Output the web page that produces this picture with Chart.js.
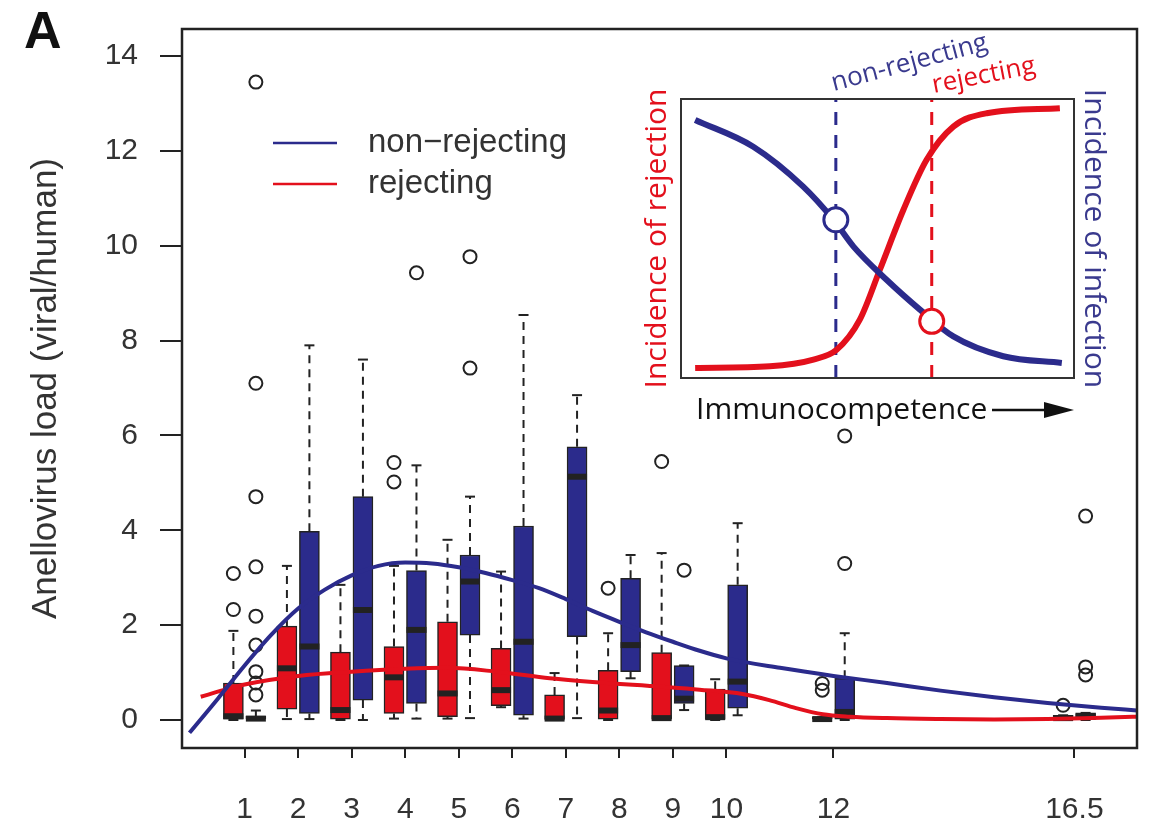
<!DOCTYPE html>
<html>
<head>
<meta charset="utf-8">
<script src="https://cdn.jsdelivr.net/npm/chart.js@4.4.1/dist/chart.umd.min.js"></script>
<style>
    body { margin: 0; background: #ffffff; }
    #wrap { position: relative; width: 1153px; height: 827px; }
    #main { position: absolute; left: 0; top: 0; }
    #inset { position: absolute; left: 620px; top: 20px; }
</style>
</head>
<body>
<div id="wrap">
    <canvas id="main" width="1153" height="827"></canvas>
    <canvas id="inset" width="530" height="420"></canvas>
</div>
<script>
// months after transplant (x positions of the box pairs)
const groups = [1, 2, 3, 4, 5, 6, 7, 8, 9, 10, 12, 16.5];
const xTicks = [1, 2, 3, 4, 5, 6, 7, 8, 9, 10, 12, 16.5];
const yTicks = [0, 2, 4, 6, 8, 10, 12, 14];

// rejecting (red) boxes
const rejLow      = [0,    0.02, 0,    0.03, 0.03, 0.27, 0,    0,    0,    0,    0,    0];
const rejQ1       = [0.02, 0.23, 0.02, 0.14, 0.07, 0.3,  0.01, 0.02, 0.02, 0.02, 0,    0];
const rejMedian   = [0.08, 1.09, 0.21, 0.9,  0.56, 0.63, 0.03, 0.2,  0.04, 0.06, 0.02, 0.04];
const rejQ3       = [0.78, 1.98, 1.43, 1.55, 2.07, 1.51, 0.53, 1.05, 1.42, 0.65, 0.06, 0.1];
const rejHigh     = [1.88, 3.25, 2.85, 3.25, 3.8,  3.13, 0.99, 1.83, 3.52, 0.86, 0.06, 0.1];
const rejOutliers = [[3.09, 2.33], [], [], [5.43, 5.02], [], [], [], [2.78], [5.45], [], [0.77, 0.63], [0.31]];

// non-rejecting (blue) boxes
const nonLow      = [0,    0.02, 0,    0.03, 0.04, 0.03, 0.04, 0.88, 0.21, 0.1,  0,    0];
const nonQ1       = [0,    0.14, 0.42, 0.35, 1.79, 0.1,  1.76, 1.02, 0.35, 0.25, 0.02, 0.01];
const nonMedian   = [0.03, 1.55, 2.32, 1.9,  2.92, 1.65, 5.13, 1.58, 0.45, 0.81, 0.17, 0.07];
const nonQ3       = [0.08, 3.98, 4.71, 3.15, 3.48, 4.09, 5.76, 2.99, 1.15, 2.85, 0.88, 0.15];
const nonHigh     = [0.2,  7.9,  7.6,  5.37, 4.71, 8.54, 6.85, 3.48, 1.15, 4.15, 1.83, 0.15];
const nonOutliers = [[13.45, 7.1, 4.71, 3.23, 2.19, 1.58, 1.02, 0.78, 0.53], [], [], [9.43], [9.77, 7.42], [], [], [], [3.16], [], [5.99, 3.3], [4.3, 1.12, 0.95]];

// fitted curves
const nonCurveX = [-0.03, 0.5, 1, 1.5, 2, 2.5, 3, 3.5, 4, 4.5, 5, 5.5, 6, 6.5, 7, 7.5, 8, 8.5, 9, 9.5, 10, 11, 12, 13, 14, 15, 16, 17, 17.67];
const nonCurveY = [-0.27, 0.45, 1.15, 1.8, 2.35, 2.75, 3.05, 3.25, 3.32, 3.3, 3.22, 3.1, 2.95, 2.78, 2.55, 2.3, 2.07, 1.85, 1.65, 1.46, 1.3, 1.1, 0.93, 0.78, 0.62, 0.48, 0.36, 0.26, 0.2];
const rejCurveX = [0.18, 0.6, 1, 2, 3, 4, 4.8, 5.7, 6.7, 7.5, 8.8, 9.5, 10.3, 10.8, 11.3, 11.8, 12.3, 13, 14, 15, 16, 17, 17.67];
const rejCurveY = [0.49, 0.63, 0.75, 0.93, 1.02, 1.08, 1.1, 1.02, 0.88, 0.8, 0.7, 0.64, 0.55, 0.42, 0.25, 0.12, 0.07, 0.04, 0.02, 0.01, 0.02, 0.05, 0.07];

// inset schematic
const insetInfX = [0.036, 0.184, 0.311, 0.388, 0.439, 0.523, 0.608, 0.693, 0.82, 0.969];
const insetInfY = [0.925, 0.829, 0.686, 0.567, 0.471, 0.352, 0.245, 0.149, 0.078, 0.054];
const insetRejX = [0.036, 0.226, 0.337, 0.396, 0.455, 0.506, 0.566, 0.625, 0.693, 0.778, 0.964];
const insetRejY = [0.036, 0.042, 0.066, 0.101, 0.209, 0.388, 0.603, 0.782, 0.901, 0.949, 0.967];
const thresholdX = [0.394, 0.638];
const thresholdY = [0.567, 0.203];

const RED = "#e3101c";
const BLUE = "#2b2b8c";
const INK = "#222222";
const TEXT = "#333333";
const SANS = "'Liberation Sans', Arial, Helvetica, sans-serif";
const INSET_FONT = "'Open Sans', 'Noto Sans', sans-serif";
const boxShift = 0.21;

function boxData(q1, q3, shift) {
    return groups.map((g, i) => ({ x: g + shift, y: [q1[i], q3[i]] }));
}

function pointData(values, shift) {
    return groups.map((g, i) => ({ x: g + shift, y: values[i] }));
}

function capData(low, high, shift) {
    const pts = [];
    groups.forEach((g, i) => {
        pts.push({ x: g + shift, y: low[i] }, { x: g + shift, y: high[i] });
    });
    return pts;
}

function whiskerData(low, q1, q3, high, shift) {
    const pts = [];
    groups.forEach((g, i) => {
        const x = g + shift;
        pts.push({ x, y: q3[i] }, { x, y: high[i] }, { x, y: null });
        pts.push({ x, y: q1[i] }, { x, y: low[i] }, { x, y: null });
    });
    return pts;
}

function outlierData(lists, shift) {
    const pts = [];
    lists.forEach((list, i) => {
        list.forEach((v) => pts.push({ x: groups[i] + shift, y: v }));
    });
    return pts;
}

function curveData(xs, ys) {
    return xs.map((x, i) => ({ x, y: ys[i] }));
}

function boxSet(q1, q3, shift, color) {
    return {
        type: "bar",
        data: boxData(q1, q3, shift),
        backgroundColor: color,
        borderColor: INK,
        borderWidth: 1.5,
        borderSkipped: false,
        barThickness: 20,
        grouped: false,
        order: 8
    };
}

function whiskerSet(low, q1, q3, high, shift) {
    return {
        type: "line",
        data: whiskerData(low, q1, q3, high, shift),
        borderColor: INK,
        borderWidth: 2,
        borderDash: [8, 6],
        pointRadius: 0,
        spanGaps: false,
        order: 9
    };
}

function markSet(data, style, radius, width) {
    return {
        type: "scatter",
        data,
        pointStyle: style,
        pointRadius: radius,
        pointBorderWidth: width,
        pointBorderColor: INK,
        pointBackgroundColor: "rgba(0,0,0,0)",
        order: 6
    };
}

function curveSet(label, xs, ys, color) {
    return {
        type: "line",
        label,
        data: curveData(xs, ys),
        borderColor: color,
        borderWidth: 4,
        pointRadius: 0,
        cubicInterpolationMode: "monotone",
        order: 3
    };
}

const framePlugin = {
    id: "frame",
    afterDraw(chart) {
        const { ctx, chartArea: a } = chart;
        ctx.save();
        ctx.strokeStyle = INK;
        ctx.lineWidth = 2.5;
        ctx.strokeRect(a.left, a.top, a.right - a.left, a.bottom - a.top);

        // legend
        const items = [["non\u2212rejecting", BLUE], ["rejecting", RED]];
        items.forEach(([label, color], i) => {
            const y = a.top + 114 + i * 41;
            ctx.strokeStyle = color;
            ctx.lineWidth = 2.5;
            ctx.beginPath();
            ctx.moveTo(a.left + 91, y);
            ctx.lineTo(a.left + 155, y);
            ctx.stroke();
            ctx.fillStyle = TEXT;
            ctx.font = "33px " + SANS;
            ctx.textBaseline = "middle";
            ctx.textAlign = "left";
            ctx.fillText(label, a.left + 186, y);
        });

        // panel letter
        ctx.fillStyle = "#111";
        ctx.font = "bold 52px " + SANS;
        ctx.textBaseline = "alphabetic";
        ctx.fillText("A", 24, 48);
        ctx.restore();
    }
};

new Chart(document.getElementById("main"), {
    type: "line",
    data: {
        datasets: [
            curveSet("non-rejecting", nonCurveX, nonCurveY, BLUE),
            curveSet("rejecting", rejCurveX, rejCurveY, RED),
            boxSet(rejQ1, rejQ3, -boxShift, RED),
            boxSet(nonQ1, nonQ3, boxShift, BLUE),
            whiskerSet(rejLow, rejQ1, rejQ3, rejHigh, -boxShift),
            whiskerSet(nonLow, nonQ1, nonQ3, nonHigh, boxShift),
            markSet(pointData(rejMedian, -boxShift), "line", 10, 6),
            markSet(pointData(nonMedian, boxShift), "line", 10, 6),
            markSet(capData(rejLow, rejHigh, -boxShift), "line", 5, 2),
            markSet(capData(nonLow, nonHigh, boxShift), "line", 5, 2),
            markSet(outlierData(rejOutliers, -boxShift), "circle", 6.5, 2),
            markSet(outlierData(nonOutliers, boxShift), "circle", 6.5, 2)
        ]
    },
    options: {
        responsive: false,
        animation: false,
        events: [],
        layout: { padding: { top: 29, right: 4, left: 0, bottom: 0 } },
        plugins: {
            legend: { display: false },
            tooltip: { enabled: false }
        },
        scales: {
            x: {
                type: "linear",
                min: -0.17,
                max: 17.67,
                offset: false,
                afterBuildTicks: (scale) => {
                    scale.ticks = xTicks.map((v) => ({ value: v }));
                },
                afterFit: (scale) => {
                    scale.height = 79;
                    scale.paddingLeft = 0;
                    scale.paddingRight = 0;
                },
                border: { display: false },
                grid: {
                    drawOnChartArea: false,
                    drawTicks: true,
                    tickLength: 10,
                    color: INK,
                    lineWidth: 2,
                    offset: false
                },
                ticks: {
                    autoSkip: false,
                    maxRotation: 0,
                    padding: 34,
                    color: TEXT,
                    font: { family: SANS, size: 30 },
                    callback: (value) => String(value)
                }
            },
            y: {
                type: "linear",
                min: -0.59,
                max: 14.57,
                afterBuildTicks: (scale) => {
                    scale.ticks = yTicks.map((v) => ({ value: v }));
                },
                afterFit: (scale) => {
                    scale.width = 182;
                    scale.paddingTop = 0;
                    scale.paddingBottom = 0;
                },
                border: { display: false },
                grid: {
                    drawOnChartArea: false,
                    drawTicks: true,
                    tickLength: 22,
                    color: INK,
                    lineWidth: 2
                },
                ticks: {
                    padding: 22,
                    color: TEXT,
                    font: { family: SANS, size: 30 },
                    callback: (value) => String(value)
                },
                title: {
                    display: true,
                    text: "Anellovirus load (viral/human)",
                    color: TEXT,
                    font: { family: SANS, size: 35 },
                    padding: { top: 25, bottom: 0 }
                }
            }
        }
    },
    plugins: [framePlugin]
});

const insetPlugin = {
    id: "insetDecor",
    beforeDraw(chart) {
        const { ctx, chartArea: a } = chart;
        ctx.save();
        ctx.fillStyle = "#ffffff";
        ctx.fillRect(a.left, a.top, a.right - a.left, a.bottom - a.top);
        ctx.restore();
    },
    afterDraw(chart) {
        const { ctx, chartArea: a, scales } = chart;
        ctx.save();
        ctx.strokeStyle = "#333";
        ctx.lineWidth = 2;
        ctx.strokeRect(a.left, a.top, a.right - a.left, a.bottom - a.top);

        const midY = (a.top + a.bottom) / 2;
        ctx.textAlign = "center";
        ctx.textBaseline = "middle";
        ctx.font = "30px " + INSET_FONT;

        ctx.save();
        ctx.translate(a.left - 24, midY);
        ctx.rotate(-Math.PI / 2);
        ctx.fillStyle = RED;
        ctx.fillText("Incidence of rejection", 0, 0);
        ctx.restore();

        ctx.save();
        ctx.translate(a.right + 20, midY);
        ctx.rotate(Math.PI / 2);
        ctx.fillStyle = "#3a3a8e";
        ctx.fillText("Incidence of infection", 0, 0);
        ctx.restore();

        // x label with arrow
        const labelY = a.bottom + 32;
        ctx.textAlign = "left";
        ctx.fillStyle = "#111";
        ctx.fillText("Immunocompetence", a.left + 15, labelY);
        const arrowStart = a.left + 311;
        ctx.strokeStyle = "#111";
        ctx.lineWidth = 2.5;
        ctx.beginPath();
        ctx.moveTo(arrowStart, labelY);
        ctx.lineTo(a.right - 25, labelY);
        ctx.stroke();
        ctx.fillStyle = "#111";
        ctx.beginPath();
        ctx.moveTo(a.right - 30, labelY - 8);
        ctx.lineTo(a.right, labelY);
        ctx.lineTo(a.right - 30, labelY + 8);
        ctx.closePath();
        ctx.fill();

        // threshold labels
        ctx.font = "26px " + INSET_FONT;
        ctx.textBaseline = "alphabetic";
        ctx.save();
        ctx.translate(scales.x.getPixelForValue(thresholdX[0]) - 2, a.top - 8);
        ctx.rotate(-15 * Math.PI / 180);
        ctx.fillStyle = "#3a3a8e";
        ctx.fillText("non-rejecting", 0, 0);
        ctx.restore();

        ctx.save();
        ctx.translate(scales.x.getPixelForValue(thresholdX[1]) + 2, a.top - 6);
        ctx.rotate(-11 * Math.PI / 180);
        ctx.fillStyle = RED;
        ctx.fillText("rejecting", 0, 0);
        ctx.restore();

        ctx.restore();
    }
};

function thresholdSet(i, color) {
    return {
        type: "line",
        data: [{ x: thresholdX[i], y: 0 }, { x: thresholdX[i], y: 1 }],
        borderColor: color,
        borderWidth: 3,
        borderDash: [13, 10],
        pointRadius: 0,
        order: 6
    };
}

function markerSet(i, color) {
    return {
        type: "scatter",
        data: [{ x: thresholdX[i], y: thresholdY[i] }],
        pointRadius: 12,
        pointBorderWidth: 3,
        pointBorderColor: color,
        pointBackgroundColor: "#ffffff",
        order: 1
    };
}

new Chart(document.getElementById("inset"), {
    type: "line",
    data: {
        datasets: [
            thresholdSet(0, BLUE),
            thresholdSet(1, RED),
            {
                data: curveData(insetRejX, insetRejY),
                borderColor: RED,
                borderWidth: 6,
                pointRadius: 0,
                cubicInterpolationMode: "monotone",
                order: 4
            },
            {
                data: curveData(insetInfX, insetInfY),
                borderColor: BLUE,
                borderWidth: 6,
                pointRadius: 0,
                cubicInterpolationMode: "monotone",
                order: 3
            },
            markerSet(0, BLUE),
            markerSet(1, RED)
        ]
    },
    options: {
        responsive: false,
        animation: false,
        events: [],
        layout: { padding: { left: 61, right: 76, top: 79, bottom: 62 } },
        plugins: {
            legend: { display: false },
            tooltip: { enabled: false }
        },
        scales: {
            x: { type: "linear", min: 0, max: 1, display: false },
            y: { type: "linear", min: 0, max: 1, display: false }
        }
    },
    plugins: [insetPlugin]
});
</script>
</body>
</html>
